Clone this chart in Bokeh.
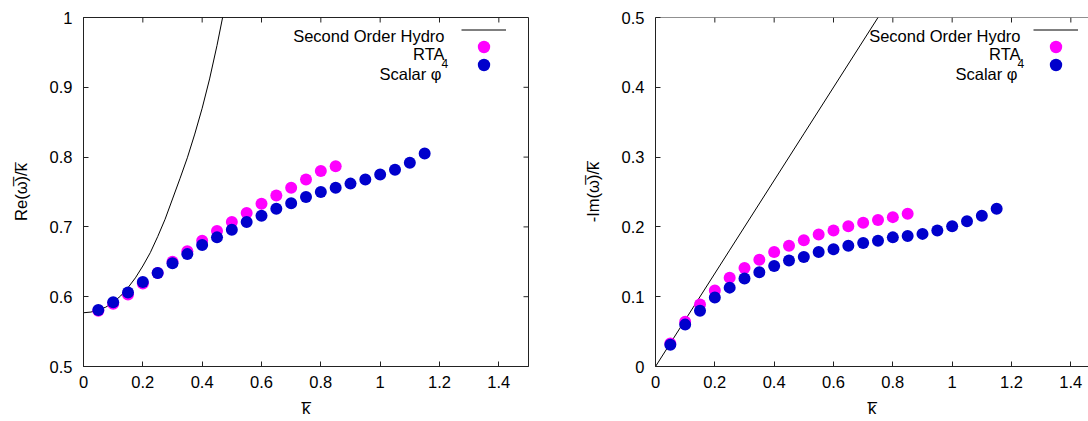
import math
from bokeh.plotting import figure
from bokeh.layouts import row
from bokeh.models import Range1d, FixedTicker, Legend, LegendItem, Label, Span
from bokeh.core.properties import value
from bokeh.embed import file_html
from bokeh.resources import INLINE

# ---------------- data ----------------
k_rta = [0.05, 0.10, 0.15, 0.20, 0.25, 0.30, 0.35, 0.40, 0.45, 0.50,
         0.55, 0.60, 0.65, 0.70, 0.75, 0.80, 0.85]
re_rta = [0.580, 0.590, 0.603, 0.619, 0.634, 0.650, 0.665, 0.680, 0.694, 0.707,
          0.720, 0.733, 0.745, 0.756, 0.768, 0.780, 0.787]
im_rta = [0.033, 0.064, 0.089, 0.109, 0.127, 0.141, 0.153, 0.164, 0.173, 0.181,
          0.189, 0.195, 0.201, 0.206, 0.210, 0.214, 0.219]

k_phi4 = [0.05, 0.10, 0.15, 0.20, 0.25, 0.30, 0.35, 0.40, 0.45, 0.50,
          0.55, 0.60, 0.65, 0.70, 0.75, 0.80, 0.85, 0.90, 0.95, 1.00,
          1.05, 1.10, 1.15]
re_phi4 = [0.581, 0.592, 0.606, 0.621, 0.634, 0.648, 0.661, 0.674, 0.685, 0.696,
           0.707, 0.716, 0.726, 0.734, 0.743, 0.750, 0.756, 0.762, 0.768, 0.775,
           0.782, 0.792, 0.805]
im_phi4 = [0.031, 0.060, 0.080, 0.099, 0.113, 0.126, 0.135, 0.144, 0.152, 0.157,
           0.164, 0.168, 0.173, 0.177, 0.180, 0.185, 0.187, 0.190, 0.195, 0.201,
           0.208, 0.216, 0.226]

k_hydro_re = [0.0, 0.025, 0.05, 0.075, 0.10, 0.125, 0.15, 0.175, 0.20, 0.225,
              0.25, 0.275, 0.30, 0.325, 0.35, 0.375, 0.40, 0.425, 0.45, 0.475]
re_hydro = [0.577, 0.578, 0.581, 0.585, 0.592, 0.601, 0.613, 0.627, 0.644, 0.663,
            0.686, 0.711, 0.740, 0.769, 0.799, 0.833, 0.870, 0.912, 0.960, 1.013]

k_hydro_im = [0.0, 0.25, 0.50, 0.75, 0.80]
im_hydro = [0.0, 0.1667, 0.3333, 0.500, 0.5333]

x_ticks = [0, 0.2, 0.4, 0.6, 0.8, 1, 1.2, 1.4]
x_tick_labels = ["0", "0.2", "0.4", "0.6", "0.8", "1", "1.2", "1.4"]
y_ticks_re = [0.5, 0.6, 0.7, 0.8, 0.9, 1]
y_tick_labels_re = ["0.5", "0.6", "0.7", "0.8", "0.9", "1"]
y_ticks_im = [0, 0.1, 0.2, 0.3, 0.4, 0.5]
y_tick_labels_im = ["0", "0.1", "0.2", "0.3", "0.4", "0.5"]

legend_texts = ["Second Order Hydro", "RTA", "Scalar \u03c6"]
legend_sup = "4"

x_label = "k\u0305"
y_label_re = "Re(\u03c9\u0305)/k\u0305"
y_label_im = "-Im(\u03c9\u0305)/k\u0305"

# ---------------- styling ----------------
FONT = "Liberation Sans"
FS = "16.5px"
AX_COLOR = "#222222"
MAGENTA = "#ff00ff"
BLUE = "#0000cc"
PX_PER_UNIT = 445 / 1.5
TICK = 5


def style_axis(ax):
    ax.major_tick_in = TICK
    ax.major_tick_out = 0
    ax.minor_tick_line_color = None
    ax.axis_line_color = AX_COLOR
    ax.axis_line_width = 1
    ax.major_tick_line_color = AX_COLOR
    ax.major_label_text_font = FONT
    ax.major_label_text_font_size = FS
    ax.major_label_text_color = "black"
    ax.major_label_standoff = 11
    ax.axis_label_text_font = FONT
    ax.axis_label_text_font_size = FS
    ax.axis_label_text_font_style = "normal"
    ax.axis_label_text_color = "black"


def legend_row(p, renderer, y_center):
    # the sample of one gnuplot-style legend row (its text is a Label)
    lg = Legend(
        items=[LegendItem(label=value("\u00a0"), renderers=[renderer])],
        location=(378, y_center - 15.5),
        glyph_width=45, glyph_height=31,
        padding=0, margin=0, spacing=0,
        label_standoff=0, label_width=0, label_height=0,
        label_text_font=FONT, label_text_font_size="10px",
        border_line_color=None, background_fill_alpha=0)
    p.add_layout(lg, "center")


def legend_text(p, text, x, y, size=FS, align="right"):
    p.add_layout(Label(x=x, y=y, x_units="screen", y_units="screen",
                       text=text, text_align=align, text_baseline="alphabetic",
                       text_font=FONT, text_font_size=size, text_color="black"))


def make_panel(k_h, v_h, v_rta, v_phi, y_rng, y_ticks, y_labels, y_label,
               x_end, frame_w, border_left, border_right, full_box, text_x):
    p = figure(frame_width=frame_w, frame_height=349,
               x_range=Range1d(0, x_end), y_range=Range1d(*y_rng),
               output_backend="svg", toolbar_location=None,
               min_border_left=border_left, min_border_right=border_right,
               min_border_top=17, min_border_bottom=55)
    p.xgrid.visible = False
    p.ygrid.visible = False
    p.background_fill_color = "white"
    p.border_fill_color = "white"
    p.outline_line_color = AX_COLOR if full_box else None

    xa = p.xaxis[0]
    xa.ticker = FixedTicker(ticks=x_ticks)
    xa.major_label_overrides = dict(zip(x_ticks, x_tick_labels))
    xa.axis_label = x_label
    style_axis(xa)
    xa.major_label_standoff = 9
    xa.axis_label_standoff = 8

    ya = p.yaxis[0]
    ya.ticker = FixedTicker(ticks=y_ticks)
    ya.major_label_overrides = dict(zip(y_ticks, y_labels))
    ya.axis_label = y_label
    style_axis(ya)
    ya.axis_label_standoff = 17

    # mirrored inward ticks (top, and right when the box is complete)
    p.ray(x=x_ticks, y=[y_rng[1]] * len(x_ticks), length=TICK, length_units="screen",
          angle=-math.pi / 2, line_color=AX_COLOR, line_width=1)
    if full_box:
        p.ray(x=[x_end] * len(y_ticks), y=y_ticks, length=TICK, length_units="screen",
              angle=math.pi, line_color=AX_COLOR, line_width=1)
    else:
        p.add_layout(Span(location=y_rng[1], dimension="width",
                          line_color=AX_COLOR, line_width=1))

    r_line = p.line(k_h, v_h, line_color="black", line_width=1)
    r_rta = p.scatter(k_rta, v_rta, size=12, fill_color=MAGENTA, line_color=None)
    r_phi = p.scatter(k_phi4, v_phi, size=12, fill_color=BLUE, line_color=None)

    # legend rows (centres / baselines measured from the frame bottom)
    legend_row(p, r_line, 336.6)
    legend_row(p, r_rta, 319.1)
    legend_row(p, r_phi, 301.3)
    legend_text(p, legend_texts[0], text_x, 330.6)
    legend_text(p, legend_texts[1], text_x, 312.9)
    legend_text(p, legend_texts[2], text_x - 3, 292.9)
    legend_text(p, legend_sup, text_x - 3, 303.1, size="12px", align="left")
    return p


p1 = make_panel(k_hydro_re, re_hydro, re_rta, re_phi4, (0.5, 1.0),
                y_ticks_re, y_tick_labels_re, y_label_re,
                1.5, 445, 83, 42, True, 361)
p2 = make_panel(k_hydro_im, im_hydro, im_rta, im_phi4, (0.0, 0.5),
                y_ticks_im, y_tick_labels_im, y_label_im,
                433 / PX_PER_UNIT, 433, 85, 0, False, 365)

layout = row(p1, p2, spacing=0)
open("out.html", "w").write(file_html(layout, INLINE))
